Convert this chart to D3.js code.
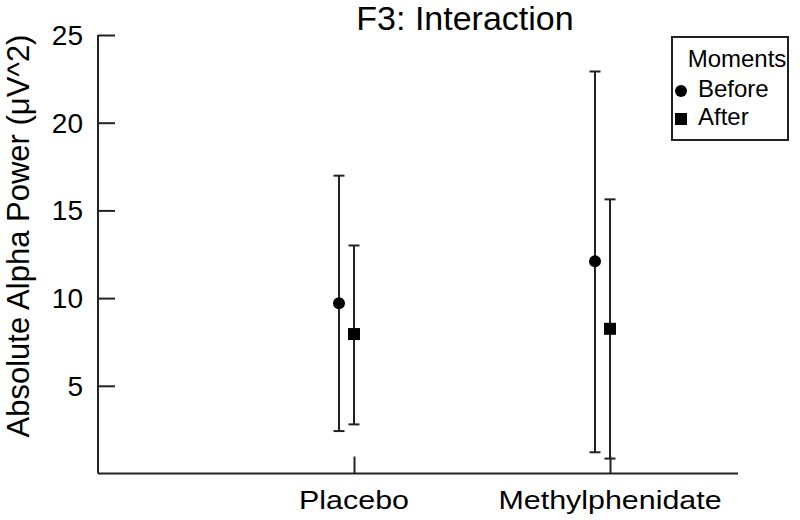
<!DOCTYPE html>
<html>
<head>
<meta charset="utf-8">
<script src="https://cdn.jsdelivr.net/npm/d3@7"></script>
<style>
  body { margin: 0; background: #fff; }
  text { font-family: "Liberation Sans", Arial, sans-serif; fill: #000; }
</style>
</head>
<body>
<div id="chart"></div>
<script>
const width = 800, height = 520

// data
const groups = ["Placebo", "Methylphenidate"]
const moments = ["Before", "After"]
const means = { Before: [9.7, 12.1], After: [7.95, 8.25] }
const lower = { Before: [2.42, 1.21], After: [2.8, 0.85] }
const upper = { Before: [16.98, 22.92], After: [13.0, 15.63] }
const yTicks = [5, 10, 15, 20, 25]

const svg = d3.select("#chart").append("svg")
  .attr("width", width)
  .attr("height", height)

// x: category index, 0 = left edge of axis
const x = d3.scaleLinear().domain([0, 2.5]).range([98, 738])
const y = d3.scaleLinear().domain([0, 25]).range([473.5, 35])
const dodge = { Before: -15, After: 0 }

// y axis (ticks point inwards)
const yAxis = svg.append("g")
  .attr("transform", "translate(98,0)")
  .call(d3.axisRight(y).tickValues(yTicks).tickSize(17).tickFormat(""))
yAxis.select(".domain").attr("d", `M0,${y(25)}V${y(0)}`)
yAxis.selectAll("line, path").attr("stroke", "#222").attr("stroke-width", 2)

svg.selectAll(".ylab")
  .data(yTicks)
  .join("text")
  .attr("class", "ylab")
  .attr("x", 83)
  .attr("y", d => y(d))
  .attr("dy", "0.36em")
  .attr("text-anchor", "end")
  .style("font-size", "28px")
  .text(d => d)

// x axis
const xAxis = svg.append("g")
  .attr("transform", `translate(0,${y(0)})`)
  .call(d3.axisTop(x).tickValues([1, 2]).tickSize(17).tickFormat(""))
xAxis.select(".domain").attr("d", `M${x(0)},0H${x(2.5)}`)
xAxis.selectAll("line, path").attr("stroke", "#222").attr("stroke-width", 2)

// category labels are a bit wider than the font, stretch them
svg.selectAll(".xlab")
  .data(groups)
  .join("text")
  .attr("class", "xlab")
  .attr("transform", (d, i) => `translate(${x(i + 1)},509) scale(1.17,1)`)
  .attr("text-anchor", "middle")
  .style("font-size", "26px")
  .text(d => d)

// title and y label
svg.append("text")
  .attr("x", 465)
  .attr("y", 30)
  .attr("text-anchor", "middle")
  .style("font-size", "34px")
  .text("F3: Interaction")

svg.append("text")
  .attr("transform", "translate(29,236) rotate(-90)")
  .attr("text-anchor", "middle")
  .style("font-size", "31px")
  .text("Absolute Alpha Power (μV^2)")

// error bars + points
moments.forEach(m => {
  const rows = groups.map((g, i) => ({
    cx: x(i + 1) + dodge[m],
    mean: means[m][i], lo: lower[m][i], hi: upper[m][i]
  }))
  const g = svg.append("g").attr("stroke", "#222").attr("stroke-width", 2)
  g.selectAll(".bar").data(rows).join("line")
    .attr("x1", d => d.cx).attr("x2", d => d.cx)
    .attr("y1", d => y(d.lo)).attr("y2", d => y(d.hi))
  g.selectAll(".capHi").data(rows).join("line")
    .attr("x1", d => d.cx - 5.5).attr("x2", d => d.cx + 5.5)
    .attr("y1", d => y(d.hi)).attr("y2", d => y(d.hi))
  g.selectAll(".capLo").data(rows).join("line")
    .attr("x1", d => d.cx - 5.5).attr("x2", d => d.cx + 5.5)
    .attr("y1", d => y(d.lo)).attr("y2", d => y(d.lo))

  if (m === "Before") {
    svg.append("g").selectAll("circle").data(rows).join("circle")
      .attr("cx", d => d.cx).attr("cy", d => y(d.mean)).attr("r", 6)
      .attr("fill", "#000")
  } else {
    svg.append("g").selectAll("rect").data(rows).join("rect")
      .attr("x", d => d.cx - 6).attr("y", d => y(d.mean) - 6)
      .attr("width", 12).attr("height", 12)
      .attr("fill", "#000")
  }
})

// legend
const legend = svg.append("g")
legend.append("rect")
  .attr("x", 672).attr("y", 37).attr("width", 116).attr("height", 103)
  .attr("fill", "#fff").attr("stroke", "#222").attr("stroke-width", 2)
legend.append("text")
  .attr("x", 737).attr("y", 67).attr("text-anchor", "middle")
  .style("font-size", "24px").text("Moments")
legend.append("circle").attr("cx", 681).attr("cy", 91).attr("r", 6).attr("fill", "#000")
legend.append("text").attr("x", 698).attr("y", 97)
  .style("font-size", "24px").text("Before")
legend.append("rect").attr("x", 675).attr("y", 113).attr("width", 12).attr("height", 12).attr("fill", "#000")
legend.append("text").attr("x", 698).attr("y", 125)
  .style("font-size", "24px").text("After")
</script>
</body>
</html>
